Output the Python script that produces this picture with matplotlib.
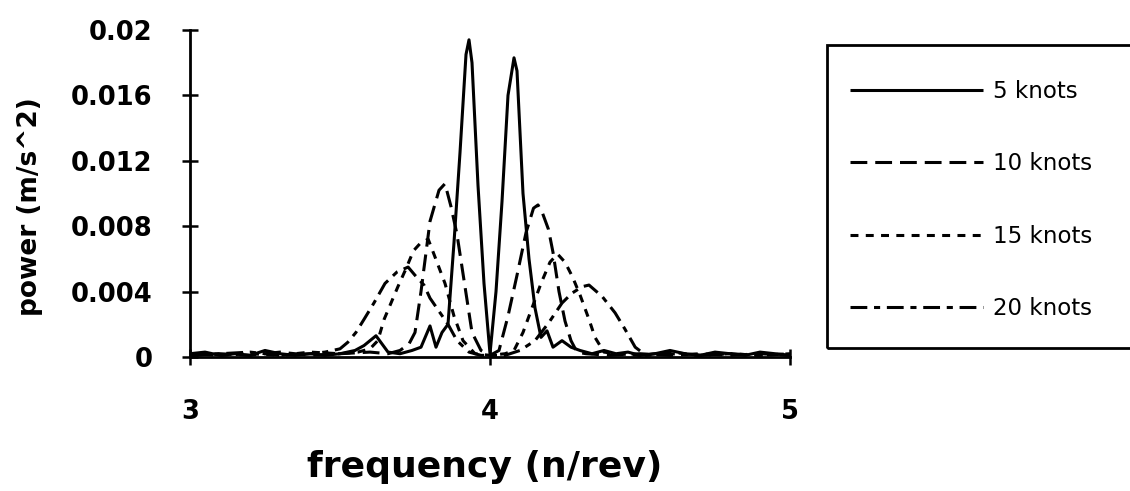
import matplotlib
matplotlib.use("Agg")
import matplotlib.pyplot as plt
from matplotlib.patches import Rectangle

# ---------------- data ----------------
series_labels = ["5 knots", "10 knots", "15 knots", "20 knots"]

freq_5 = [3.00, 3.05, 3.10, 3.15, 3.20, 3.25, 3.30, 3.35, 3.40, 3.45, 3.50, 3.55, 3.58,
          3.62, 3.66, 3.70, 3.74, 3.77, 3.80, 3.82, 3.84, 3.86, 3.88, 3.90, 3.92, 3.93,
          3.94, 3.96, 3.98, 4.00, 4.02, 4.04, 4.06, 4.08, 4.09, 4.11, 4.13, 4.15, 4.17,
          4.19, 4.21, 4.24, 4.27, 4.30, 4.34, 4.38, 4.42, 4.46, 4.50, 4.55, 4.60, 4.65,
          4.70, 4.75, 4.80, 4.85, 4.90, 4.95, 5.00]
power_5 = [0.0002, 0.0003, 0.0001, 0.0002, 0.0001, 0.0004, 0.0002, 0.0001, 0.0002, 0.0001,
           0.0002, 0.0004, 0.0007, 0.0013, 0.0003, 0.0002, 0.0004, 0.0006, 0.0019, 0.0006,
           0.0015, 0.0020, 0.0070, 0.0125, 0.0185, 0.0194, 0.0180, 0.0105, 0.0045, 0.0002,
           0.0040, 0.0095, 0.0160, 0.0183, 0.0175, 0.0100, 0.0060, 0.0030, 0.0012, 0.0016,
           0.0006, 0.0010, 0.0006, 0.0004, 0.0002, 0.0004, 0.0002, 0.0003, 0.0001, 0.0002,
           0.0004, 0.0002, 0.0001, 0.0003, 0.0002, 0.0001, 0.0003, 0.0002, 0.0001]

freq_10 = [3.00, 3.10, 3.20, 3.30, 3.40, 3.50, 3.60, 3.66, 3.70, 3.73, 3.75, 3.77, 3.80,
           3.83, 3.85, 3.87, 3.89, 3.915, 3.94, 3.97, 4.00, 4.03, 4.06, 4.09, 4.12, 4.145,
           4.16, 4.175, 4.195, 4.21, 4.23, 4.25, 4.27, 4.29, 4.32, 4.40, 4.50, 4.60, 4.70,
           4.80, 4.90, 5.00]
power_10 = [0.0001, 0.0002, 0.0001, 0.0003, 0.0001, 0.0002, 0.0003, 0.0002, 0.0004, 0.0008,
            0.0015, 0.0040, 0.0083, 0.0102, 0.0106, 0.0092, 0.0075, 0.0045, 0.0015, 0.0004,
            0.0001, 0.0004, 0.0025, 0.0050, 0.0076, 0.0091, 0.0093, 0.0088, 0.0078, 0.0064,
            0.0040, 0.0022, 0.0010, 0.0003, 0.0002, 0.0001, 0.0002, 0.0001, 0.0002, 0.0001,
            0.0002, 0.0001]

freq_15 = [3.00, 3.10, 3.20, 3.30, 3.40, 3.50, 3.56, 3.60, 3.626, 3.647, 3.67, 3.693, 3.72,
           3.745, 3.77, 3.794, 3.815, 3.85, 3.88, 3.91, 3.95, 4.00, 4.05, 4.08, 4.11, 4.14,
           4.17, 4.20, 4.225, 4.25, 4.275, 4.30, 4.33, 4.35, 4.38, 4.42, 4.50, 4.60, 4.70,
           4.80, 4.90, 5.00]
power_15 = [0.0002, 0.0001, 0.0002, 0.0001, 0.0003, 0.0002, 0.0003, 0.0005, 0.0010, 0.0023,
            0.0033, 0.0043, 0.0054, 0.0065, 0.0070, 0.0072, 0.0062, 0.0045, 0.0025, 0.0010,
            0.0002, 0.0001, 0.0002, 0.0004, 0.0015, 0.0030, 0.0045, 0.0058, 0.0063, 0.0058,
            0.0049, 0.0038, 0.0023, 0.0012, 0.0003, 0.0002, 0.0001, 0.0003, 0.0001, 0.0002,
            0.0001, 0.0002]

freq_20 = [3.00, 3.10, 3.20, 3.30, 3.40, 3.45, 3.50, 3.526, 3.553, 3.58, 3.613, 3.65, 3.69,
           3.727, 3.75, 3.78, 3.80, 3.83, 3.86, 3.89, 3.93, 3.97, 4.00, 4.05, 4.10, 4.15,
           4.196, 4.24, 4.273, 4.307, 4.33, 4.374, 4.417, 4.45, 4.484, 4.52, 4.60, 4.70,
           4.80, 4.90, 5.00]
power_20 = [0.0001, 0.0002, 0.0003, 0.0001, 0.0002, 0.0003, 0.0005, 0.0009, 0.0015, 0.0023,
            0.0033, 0.0045, 0.0052, 0.0055, 0.0050, 0.0044, 0.0036, 0.0028, 0.0020, 0.0010,
            0.0003, 0.0001, 0.0001, 0.0001, 0.0004, 0.0010, 0.0021, 0.0033, 0.0039, 0.0043,
            0.0044, 0.0037, 0.0027, 0.0017, 0.0006, 0.0001, 0.0002, 0.0001, 0.0002, 0.0001,
            0.0002]

y_ticks = [0, 0.004, 0.008, 0.012, 0.016, 0.02]
y_tick_labels = ["0", "0.004", "0.008", "0.012", "0.016", "0.02"]
x_ticks = [3, 4, 5]
x_tick_labels = ["3", "4", "5"]

# ---------------- figure ----------------
W, H = 1130, 491
fig = plt.figure(figsize=(W / 100, H / 100), dpi=100)
fig.patch.set_facecolor("white")

ax_l, ax_r, ax_t, ax_b = 190, 790, 30, 357
ax = fig.add_axes([ax_l / W, 1 - ax_b / H, (ax_r - ax_l) / W, (ax_b - ax_t) / H])

lw = 2.2
styles = [
    dict(linestyle="-"),
    dict(dashes=(5.5, 2.6)),
    dict(dashes=(2.6, 2.4)),
    dict(dashes=(5.5, 2.2, 2.0, 2.2)),
]
data = [(freq_5, power_5), (freq_10, power_10), (freq_15, power_15), (freq_20, power_20)]
handles = []
for (fx, py), st, lab in zip(data, styles, series_labels):
    h, = ax.plot(fx, py, color="black", lw=lw, label=lab, solid_capstyle="butt",
                 dash_capstyle="butt", **st)
    handles.append(h)

ax.set_xlim(3, 5)
ax.set_ylim(0, 0.02)
for s in ["top", "right"]:
    ax.spines[s].set_visible(False)
for s in ["left", "bottom"]:
    ax.spines[s].set_linewidth(2)
    ax.spines[s].set_color("black")

tick_font = dict(family="DejaVu Sans", weight="bold", size=18.5)
ax.set_yticks(y_ticks)
ax.set_yticklabels(y_tick_labels, fontdict=tick_font)
ax.set_xticks(x_ticks)
ax.set_xticklabels(x_tick_labels, fontdict=tick_font)
ax.tick_params(axis="y", direction="inout", length=12, width=1.8, pad=21)
ax.tick_params(axis="x", direction="inout", length=12, width=1.8, pad=24)

ax.set_ylabel("power (m/s^2)", family="DejaVu Sans", weight="bold", size=19)
ax.yaxis.set_label_coords((43 - ax_l) / (ax_r - ax_l), 1 - (207 - ax_t) / (ax_b - ax_t))
ax.set_xlabel("frequency (n/rev)", family="DejaVu Sans", weight="bold", size=26, va="center")
ax.xaxis.set_label_coords((485 - ax_l) / (ax_r - ax_l), (ax_b - 467) / (ax_b - ax_t))

# legend frame (extends past right edge of figure)
frame = Rectangle((827 / W, 1 - 348 / H), (1140 - 827) / W, (348 - 45) / H,
                  transform=fig.transFigure, fill=False, edgecolor="black", lw=2,
                  clip_on=False)
fig.add_artist(frame)

leg_fs = 16.5
leg = fig.legend(handles, series_labels, loc="upper left",
                 bbox_to_anchor=(850 / W, 1 - 80 / H), bbox_transform=fig.transFigure,
                 frameon=False, borderpad=0, borderaxespad=0, fontsize=leg_fs,
                 handlelength=133 / (leg_fs * 100 / 72), handletextpad=0.45,
                 labelspacing=2.15, prop=dict(family="DejaVu Sans", size=leg_fs))

fig.savefig("out.png", dpi=100, facecolor="white")
